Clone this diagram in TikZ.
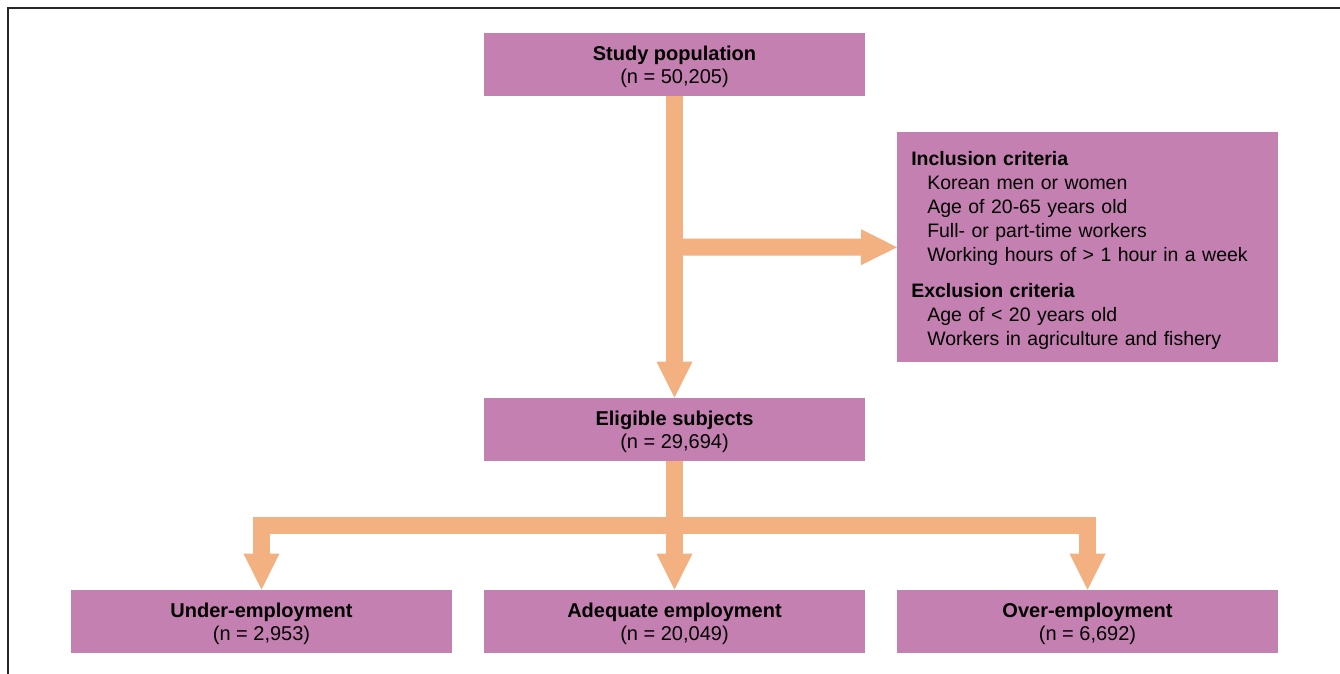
\documentclass[tikz,border=0pt]{standalone}
\usepackage{fontspec}
\setmainfont{Liberation Sans}
\usetikzlibrary{arrows.meta}
\definecolor{boxfill}{RGB}{196,128,176}
\definecolor{arrowfill}{RGB}{243,176,128}
\definecolor{framecol}{RGB}{40,40,40}
\newcommand{\topstrut}[1]{\rule{0pt}{#1}}
\begin{document}
\begin{tikzpicture}[x=0.75pt,y=-0.75pt,
  box/.style={fill=boxfill,draw=none,minimum width=285.75pt,minimum height=47.25pt,
    inner sep=0pt,align=center,font=\fontsize{15pt}{17.25pt}\selectfont},
  flow/.style={draw=arrowfill,line width=12.75pt,line join=miter,
    -{Triangle[width=27pt,length=27pt,line width=0pt,fill=arrowfill]}}]
\useasboundingbox (0,0) rectangle (1340,674);
\draw[framecol,line width=1.5pt] (8,674) -- (8,8) -- (1340,8);
\node[box] (study) at (674.5,64.5) {\topstrut{14pt}\textbf{Study population}\\(n = 50,205)};
\node[box,minimum height=172.5pt,align=left,anchor=north west,inner xsep=10.5pt,
  text width=264.75pt,font=\fontsize{14.6pt}{18pt}\selectfont] (crit) at (897,132)
  {\topstrut{15.5pt}\textbf{Inclusion criteria}\\
   \hspace*{12pt}Korean men or women\\
   \hspace*{12pt}Age of 20-65 years old\\
   \hspace*{12pt}Full- or part-time workers\\
   \hspace*{12pt}Working hours of > 1 hour in a week\\[9pt]
   \textbf{Exclusion criteria}\\
   \hspace*{12pt}Age of < 20 years old\\
   \hspace*{12pt}Workers in agriculture and fishery};
\node[box] (elig) at (674.5,429.5) {\topstrut{14pt}\textbf{Eligible subjects}\\(n = 29,694)};
\node[box] (under) at (261.5,621.5) {\topstrut{14pt}\textbf{Under-employment}\\(n = 2,953)};
\node[box] (adeq) at (674.5,621.5) {\topstrut{14pt}\textbf{Adequate employment}\\(n = 20,049)};
\node[box] (over) at (1087.5,621.5) {\topstrut{14pt}\textbf{Over-employment}\\(n = 6,692)};
\coordinate (j1) at (674.5,247);
\coordinate (j2) at (674.5,525);
\draw[flow] (study.south) -- (elig.north);
\draw[flow] (j1) -- (crit.west);
\draw[flow] (elig.south) -- (adeq.north);
\draw[flow] (j2) -| (under.north);
\draw[flow] (j2) -| (over.north);
\end{tikzpicture}
\end{document}
